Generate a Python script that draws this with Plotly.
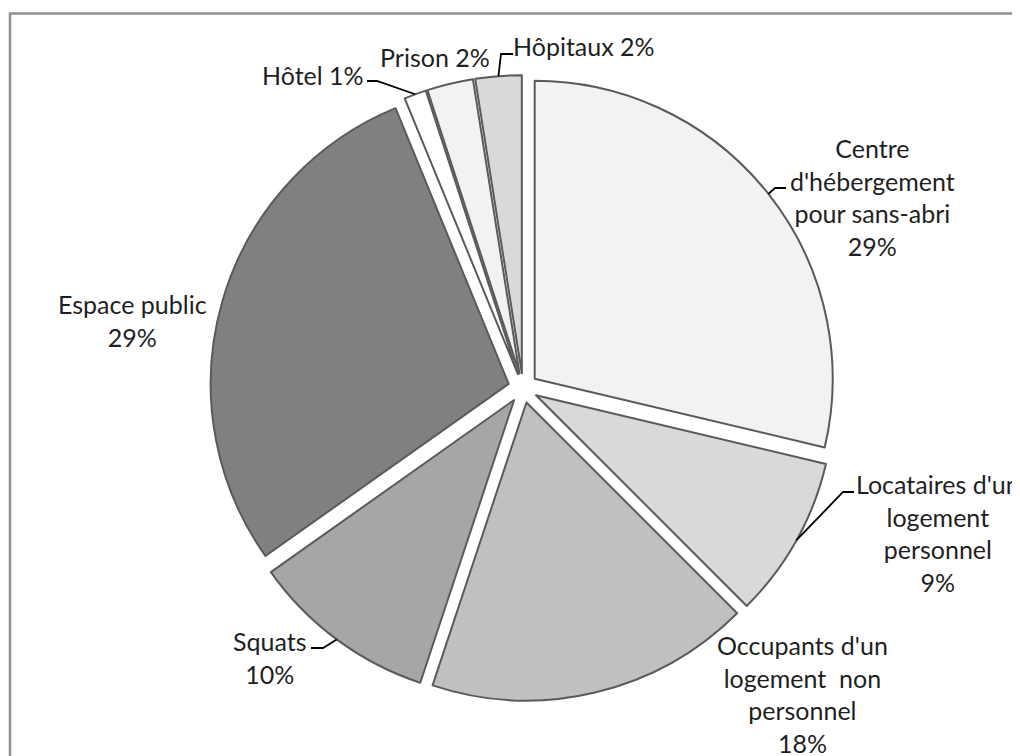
import math
import plotly.graph_objects as go

# ---- data ----
categories = [
    "Centre d'hébergement pour sans-abri",
    "Locataires d'un logement personnel",
    "Occupants d'un logement non personnel",
    "Squats",
    "Espace public",
    "Hôtel",
    "Prison",
    "Hôpitaux",
]
values = [28.7, 8.8, 17.6, 10.1, 28.6, 1.2, 2.5, 2.5]
label_texts = [
    "Centre<br>d'hébergement<br>pour sans-abri<br>29%",
    "Locataires d'un<br>logement<br>personnel<br>9%",
    "Occupants d'un<br>logement\u00a0 non<br>personnel<br>18%",
    "Squats<br>10%",
    "Espace public<br>29%",
    "Hôtel 1%",
    "Prison 2%",
    "Hôpitaux 2%",
]
colors = ["#f2f2f2", "#d9d9d9", "#c0c0c0", "#a6a6a6", "#808080", "#ffffff", "#f2f2f2", "#d9d9d9"]

# ---- layout constants (screen pixels) ----
W, H = 1020, 756
OFF = 8                # page body margin
CX, CY = 523, 388      # pie centre
R = 298                # pie radius
PULL = 0.05
half = R * (1 + PULL)

def px(x):
    return (x - OFF) / W

def py(y):
    return 1 - (y - OFF) / H

# label centre positions
label_pos = {
    0: (872, 197),
    1: (938, 533),
    2: (802, 694),
    3: (269, 657),
    4: (132, 321),
    5: (313, 75),
    6: (435, 57),
    7: (584, 46),
}
# leader lines: elbow and end point
leaders = {
    0: [(775, 188), (786, 188)],
    1: [(843, 492), (854, 492)],
    3: [(323, 648), (311, 648)],
    5: [(377, 81), (367, 81)],
    7: [(501, 54), (513, 54)],
}

fig = go.Figure()
fig.add_trace(go.Pie(
    labels=categories,
    values=values,
    sort=False,
    direction="clockwise",
    rotation=0,
    pull=[PULL] * len(values),
    marker=dict(colors=colors, line=dict(color="#5a5a5a", width=2)),
    textinfo="none",
    hoverinfo="label+percent",
    showlegend=False,
    domain=dict(x=[px(CX - half), px(CX + half)], y=[py(CY + half), py(CY - half)]),
))

annotations = []
for i, t in enumerate(label_texts):
    x, y = label_pos[i]
    annotations.append(dict(
        x=px(x), y=py(y), xref="paper", yref="paper", text=t, showarrow=False,
        xanchor="center", yanchor="middle", align="center",
        font=dict(family="Lato, Carlito, sans-serif", size=25, color="#1f1f1f"),
    ))

shapes = []
total = sum(values)
cum = 0.0
for i, v in enumerate(values):
    mid = 2 * math.pi * (cum + v / 2) / total
    cum += v
    if i in leaders:
        dist = R * (1 + PULL)
        ax = CX + dist * math.sin(mid)
        ay = CY - dist * math.cos(mid)
        pts = [(ax, ay)] + leaders[i]
        path = "M " + " L ".join(f"{px(a):.5f},{py(b):.5f}" for a, b in pts)
        shapes.append(dict(type="path", path=path, xref="paper", yref="paper",
                           line=dict(color="#000000", width=1.8)))

# chart frame
shapes.append(dict(type="rect", xref="paper", yref="paper",
                   x0=px(10), y0=py(13.5), x1=px(1045), y1=py(785),
                   line=dict(color="#8f8f8f", width=2.5), fillcolor="rgba(0,0,0,0)"))

fig.update_layout(
    width=W, height=H,
    margin=dict(l=0, r=0, t=0, b=0),
    paper_bgcolor="#ffffff",
    plot_bgcolor="#ffffff",
    annotations=annotations,
    shapes=shapes,
)

fig.write_html("out.html")
